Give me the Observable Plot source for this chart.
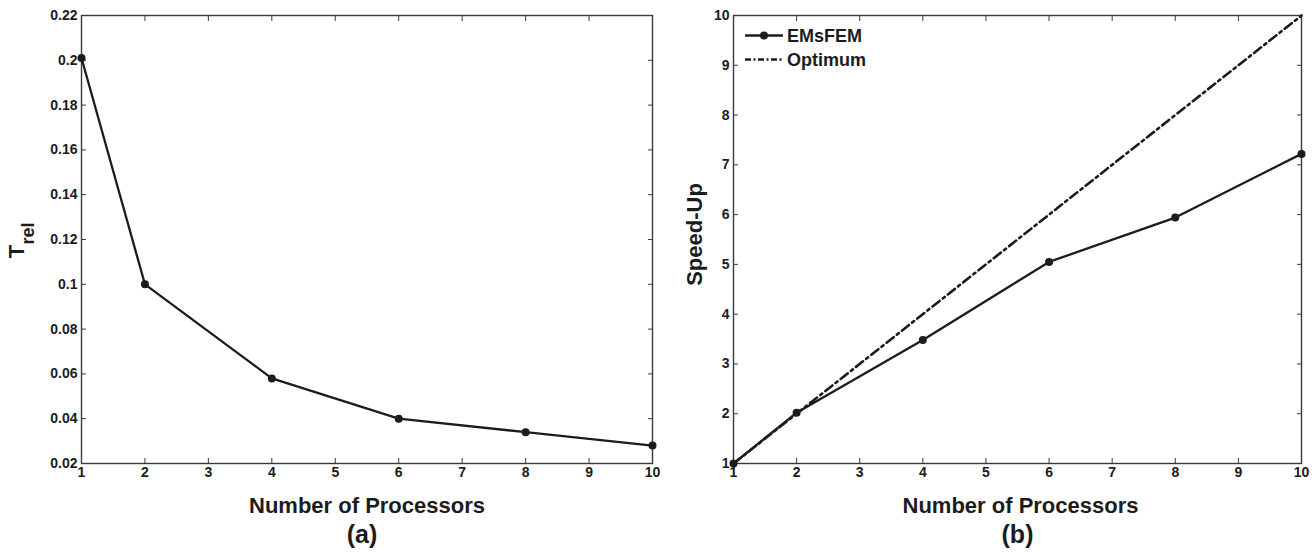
<!DOCTYPE html>
<html><head><meta charset="utf-8">
<script src="https://cdn.jsdelivr.net/npm/d3@7"></script>
<script src="https://cdn.jsdelivr.net/npm/@observablehq/plot@0.6"></script>
<style>
html,body{margin:0;padding:0;background:#fff;}
#wrap{display:flex;width:1315px;height:553px;overflow:hidden;background:#fff;}
#wrap svg{display:block;flex:none;}
</style></head><body><div id="wrap"></div>
<script>
// ---- data ----
const processors = [1, 2, 4, 6, 8, 10];
const tRel = [0.201, 0.100, 0.058, 0.040, 0.034, 0.028];
const speedUp = [1.00, 2.02, 3.48, 5.05, 5.94, 7.22];
const optimum = [1, 2, 4, 6, 8, 10];
const xTicks = [1, 2, 3, 4, 5, 6, 7, 8, 9, 10];
const tRelTicks = [0.02, 0.04, 0.06, 0.08, 0.1, 0.12, 0.14, 0.16, 0.18, 0.2, 0.22];
const speedTicks = [1, 2, 3, 4, 5, 6, 7, 8, 9, 10];
const xLabel = "Number of Processors";
const panelLabels = ["(a)", "(b)"];
const yLabelA = ["T", "rel"];
const yLabelB = "Speed-Up";
const seriesNames = ["EMsFEM", "Optimum"];

// ---- styles ----
const font = "'Liberation Sans', Arial, Helvetica, sans-serif";
const ink = "#1c1c1c";
const frameColor = "#3a3a3a";
const tickFont = 14;

const dataA = processors.map((p, i) => ({p, v: tRel[i]}));
const dataB = processors.map((p, i) => ({p, v: speedUp[i]}));
const dataOpt = processors.map((p, i) => ({p, v: optimum[i]}));

function axes(xt, yt) {
  return [
    Plot.frame({stroke: frameColor, strokeWidth: 1.4}),
    Plot.axisX(xt, {anchor: "bottom", tickSize: -5, tickPadding: 9, tickFormat: d => String(d), label: null, stroke: frameColor, fontSize: tickFont, fontWeight: "bold", fill: ink}),
    Plot.axisX(xt, {anchor: "top", tickSize: -5, tickPadding: 0, tickFormat: () => "", label: null, stroke: frameColor}),
    Plot.axisY(yt, {anchor: "left", tickSize: -5, tickPadding: 9, tickFormat: d => String(d), label: null, stroke: frameColor, fontSize: tickFont, fontWeight: "bold", fill: ink}),
    Plot.axisY(yt, {anchor: "right", tickSize: -5, tickPadding: 0, tickFormat: () => "", label: null, stroke: frameColor})
  ];
}

function titles(dxLabel, panel, dxPanel) {
  return [
    Plot.text([xLabel], {frameAnchor: "bottom", dx: dxLabel, dy: 49, lineAnchor: "bottom", textAnchor: "middle", text: d => d, fontSize: 22, fontWeight: "bold", fill: ink}),
    Plot.text([panel], {frameAnchor: "bottom", dx: dxPanel, dy: 79, lineAnchor: "bottom", textAnchor: "middle", text: d => d, fontSize: 25, fontWeight: "bold", fill: ink})
  ];
}

const style = {fontFamily: font, fontWeight: "bold", fontSize: "14px", color: ink, background: "transparent", overflow: "visible"};

const plotA = Plot.plot({
  width: 657, height: 553,
  marginLeft: 81, marginRight: 5, marginTop: 15, marginBottom: 90,
  style,
  x: {domain: [1, 10]},
  y: {domain: [0.02, 0.22]},
  marks: [
    ...axes(xTicks, tRelTicks),
    Plot.line(dataA, {x: "p", y: "v", stroke: ink, strokeWidth: 2.3}),
    Plot.dot(dataA, {x: "p", y: "v", r: 4, fill: ink, stroke: null}),
    ...titles(0, panelLabels[0], -5),
    Plot.text([yLabelA[0]], {frameAnchor: "left", dx: -58, dy: 12, rotate: -90, lineAnchor: "bottom", textAnchor: "middle", text: d => d, fontSize: 22, fontWeight: "bold", fill: ink}),
    Plot.text([yLabelA[1]], {frameAnchor: "left", dx: -48, dy: 5, rotate: -90, lineAnchor: "bottom", textAnchor: "start", text: d => d, fontSize: 18, fontWeight: "bold", fill: ink})
  ]
});

const plotB = Plot.plot({
  width: 658, height: 553,
  marginLeft: 76, marginRight: 14, marginTop: 15, marginBottom: 90,
  style,
  x: {domain: [1, 10]},
  y: {domain: [1, 10]},
  marks: [
    ...axes(xTicks, speedTicks),
    Plot.line(dataOpt, {x: "p", y: "v", stroke: ink, strokeWidth: 2.6, strokeDasharray: "9,4,2.5,4"}),
    Plot.line(dataB, {x: "p", y: "v", stroke: ink, strokeWidth: 2.3}),
    Plot.dot(dataB, {x: "p", y: "v", r: 4, fill: ink, stroke: null}),
    ...titles(3, panelLabels[1], 0),
    Plot.text([yLabelB], {frameAnchor: "left", dx: -32, dy: -5, rotate: -90, lineAnchor: "bottom", textAnchor: "middle", text: d => d, fontSize: 22, fontWeight: "bold", fill: ink})
  ]
});

// legend for panel (b)
const g = d3.select(plotB).append("g")
  .attr("font-family", font).attr("font-weight", "bold").attr("font-size", 18)
  .attr("fill", ink).attr("text-anchor", "start");
const legendRows = [
  {name: seriesNames[0], y: 35.5, dash: null, marker: true},
  {name: seriesNames[1], y: 59.5, dash: "6,2.5,2,2.5", marker: false}
];
legendRows.forEach(r => {
  g.append("line").attr("x1", 88).attr("x2", 126).attr("y1", r.y).attr("y2", r.y)
    .attr("stroke", ink).attr("stroke-width", 2.3).attr("stroke-dasharray", r.dash);
  if (r.marker) g.append("circle").attr("cx", 107).attr("cy", r.y).attr("r", 4).attr("fill", ink);
  g.append("text").attr("x", 130).attr("y", r.y + 6.5).attr("text-anchor", "start").text(r.name);
});

document.getElementById("wrap").append(plotA, plotB);
</script></body></html>
